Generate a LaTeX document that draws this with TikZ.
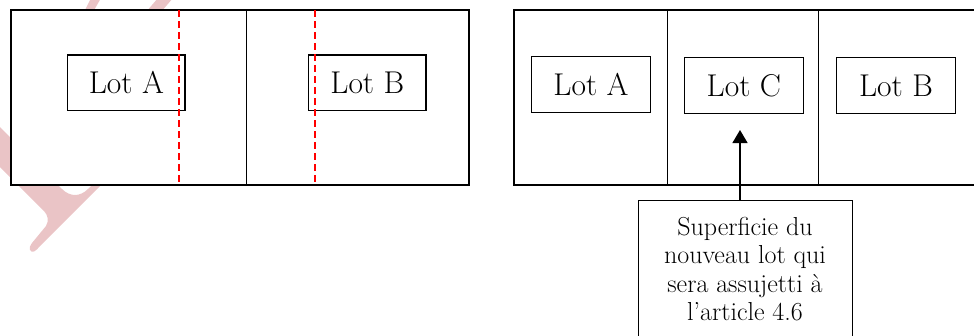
\documentclass[tikz,border=0pt]{standalone}
\usepackage{fontspec}
\usetikzlibrary{arrows.meta}
\definecolor{wm}{RGB}{234,196,198}
\begin{document}
\begin{tikzpicture}[x=1pt,y=-1pt,
  framebox/.style={draw=black, fill=white, line width=1.1pt},
  divider/.style={draw=black, line width=1pt},
  lotbox/.style={draw=black, fill=white, line width=1.1pt, inner sep=0pt,
    font=\fontsize{31.5}{36}\selectfont},
  cut/.style={draw=red, line width=1.4pt, dash pattern=on 7pt off 4pt},
  pointer/.style={draw=black, line width=1.3pt, -{Triangle[width=15pt,length=13pt]}},
  notebox/.style={draw=black, fill=white, line width=1.1pt, inner sep=0pt, anchor=north west},
  notetext/.style={anchor=north, align=center, inner sep=0pt,
    font=\fontsize{26}{28.3}\selectfont}]
\useasboundingbox (0,0) rectangle (974,335);
\clip (0,0) rectangle (974,335);
% watermark fragments
\fill[wm] (-5,122) -- (62,189) .. controls (70,197) and (80,197) .. (88,189)
  -- (150,127) -- (159,127) -- (40,246) .. controls (36,251) and (32,254) .. (30,250)
  .. controls (29,248) and (30,246) .. (32,243) -- (46,226)
  .. controls (49,221) and (48,215) .. (44,211) -- (-5,162) -- cycle;
\fill[wm] (91,-2) -- (101,-2) -- (93,12) -- (84,12) -- cycle;
\fill[wm] (158,-2) -- (173,-2) -- (161,12) -- (146,12) -- cycle;
% left plan
\draw[framebox] (11,10) rectangle (469,185);
\draw[divider] (246.5,10) -- (246.5,185);
\node[lotbox, minimum width=117.3pt, minimum height=55.7pt] (lA) at (126.3,82.8) {Lot A};
\node[lotbox, minimum width=117.3pt, minimum height=55.7pt] (lB) at (367.3,82.8) {Lot B};
\draw[cut] (179,10) -- (179,182);
\draw[cut] (315,10) -- (315,182);
% right plan
\draw[framebox] (514,10) rectangle (990,185);
\draw[divider] (667.3,10) -- (667.3,185);
\draw[divider] (818.3,10) -- (818.3,185);
\node[lotbox, minimum width=118.6pt, minimum height=56pt] (rA) at (591,84.3) {Lot A};
\node[lotbox, minimum width=119pt, minimum height=56.4pt] (rC) at (743.8,85.5) {Lot C};
\node[lotbox, minimum width=118.6pt, minimum height=56.4pt] (rB) at (896,85.5) {Lot B};
% note
\node[notebox, minimum width=213.4pt, minimum height=160pt] (note) at (638.3,200) {};
\node[notetext] (notetxt) at (745,217) {Superficie du\\nouveau lot qui\\sera assujetti à\\l’article 4.6};
\coordinate (tip) at (740,130);
\draw[pointer] (tip |- note.north) -- (tip);
\end{tikzpicture}
\end{document}
